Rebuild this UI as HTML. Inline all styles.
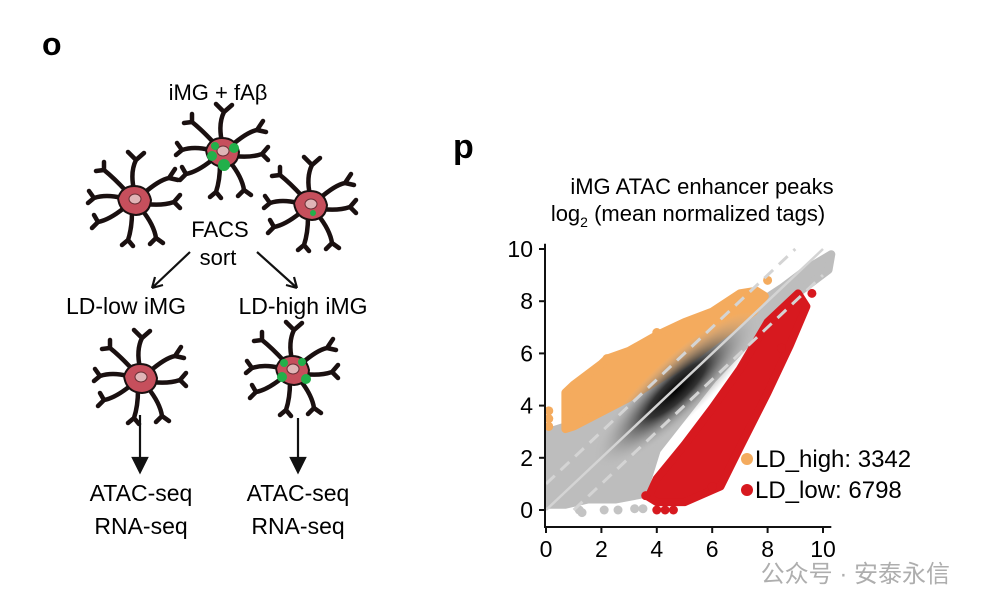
<!DOCTYPE html>
<html><head><meta charset="utf-8"><style>
html,body{margin:0;padding:0;background:#fff;}
svg{display:block;font-family:"Liberation Sans","Noto Sans CJK SC",sans-serif;}
</style></head><body>
<svg id="fig" width="981" height="613" viewBox="0 0 981 613">
<defs>
  <g id="cell">
    <g stroke="#1a1010" stroke-width="4.5" fill="none" stroke-linecap="round">
      <path d="M0,-10 Q-4,-28 2,-40 M2,-40 l-8,-8 M2,-40 l8,-7"/>
      <path d="M9,-6 Q25,-20 35,-22 M35,-22 l6,-9 M35,-22 l9,2"/>
      <path d="M12,4 Q28,6 40,2 M40,2 l6,-7 M40,2 l6,6"/>
      <path d="M8,10 Q20,25 22,38 M22,38 l-6,6 M22,38 l7,5"/>
      <path d="M-2,12 Q-2,28 -6,40 M-6,40 l-6,5 M-6,40 l5,6"/>
      <path d="M-10,8 Q-25,20 -36,22 M-36,22 l-6,6 M-36,22 l-4,-7"/>
      <path d="M-12,-2 Q-28,-6 -40,-2 M-40,-2 l-5,-7 M-40,-2 l-6,5"/>
      <path d="M-8,-9 Q-20,-22 -30,-30 M-30,-30 l-8,1 M-30,-30 l0,-8"/>
    </g>
    <path d="M-16,-2 Q-12,-14 0,-14 Q14,-14 17,0 Q16,14 2,15 Q-14,14 -16,-2Z" fill="#c64f5c" stroke="#1a1010" stroke-width="2"/>
    <ellipse cx="1" cy="-1" rx="6" ry="5" fill="#e0b4b6" stroke="#6a3036" stroke-width="1"/>
  </g>
</defs>

<text x="42" y="55" font-size="32" font-weight="bold">o</text>
<text x="218" y="100" font-size="22" text-anchor="middle">iMG + fAβ</text>
<g transform="translate(222,152)"><use href="#cell"/>
  <circle cx="-7" cy="-6" r="4" fill="#22b04a"/><circle cx="12" cy="-4" r="5" fill="#22b04a"/><circle cx="-10" cy="4" r="5" fill="#22b04a"/><circle cx="2" cy="13" r="6" fill="#22b04a"/></g>
<g transform="translate(134,200)"><use href="#cell"/></g>
<g transform="translate(310,205)"><use href="#cell"/><circle cx="3" cy="8" r="3" fill="#22b04a"/></g>
<text x="220" y="237" font-size="22" text-anchor="middle">FACS</text>
<text x="218" y="265" font-size="22" text-anchor="middle">sort</text>
<g stroke="#111" stroke-width="2.2" fill="none">
  <path d="M190,252 L152,288 M152,288 l3,-11 M152,288 l11,-3"/>
  <path d="M257,252 L297,288 M297,288 l-3,-11 M297,288 l-11,-3"/>
</g>
<text x="126" y="314" font-size="23" text-anchor="middle">LD-low iMG</text>
<text x="303" y="314" font-size="23" text-anchor="middle">LD-high iMG</text>
<g transform="translate(140,378)"><use href="#cell"/></g>
<g transform="translate(292,370)"><use href="#cell"/>
  <circle cx="-8" cy="-7" r="4" fill="#22b04a"/><circle cx="10" cy="-8" r="4" fill="#22b04a"/><circle cx="-10" cy="7" r="5" fill="#22b04a"/><circle cx="14" cy="9" r="5" fill="#22b04a"/></g>
<g stroke="#111" stroke-width="2.2" fill="#111">
  <line x1="140" y1="415" x2="140" y2="466"/><path d="M133,458 L140,472 L147,458Z"/>
  <line x1="298" y1="418" x2="298" y2="466"/><path d="M291,458 L298,472 L305,458Z"/>
</g>
<text x="141" y="501" font-size="23" text-anchor="middle">ATAC-seq</text>
<text x="141" y="534" font-size="23" text-anchor="middle">RNA-seq</text>
<text x="298" y="501" font-size="23" text-anchor="middle">ATAC-seq</text>
<text x="298" y="534" font-size="23" text-anchor="middle">RNA-seq</text>

<text x="453" y="158" font-size="34" font-weight="bold">p</text>
<text x="702" y="194" font-size="22" text-anchor="middle">iMG ATAC enhancer peaks</text>
<text x="688" y="221" font-size="22" text-anchor="middle">log<tspan font-size="14" dy="6">2</tspan><tspan dy="-6"> (mean normalized tags)</tspan></text>
<g id="plot"></g>
<text x="950" y="582" font-size="24" fill="#9a9a9a" text-anchor="end" opacity="0.8">公众号 · 安泰永信</text>
</svg>
<script>
const xTicks=[0,2,4,6,8,10];
const yTicks=[0,2,4,6,8,10];
const grayRegion=[[0.1,0.2],[0.1,3.0],[0.7,3.2],[3,4.3],[5,5.6],[7.5,7.8],[8.5,8.5],[9.5,9.3],[10.3,9.8],[10.2,9.2],[9.2,8.4],[8.6,7.9],[6,5],[4,2.3],[3.5,0.6],[2.5,0.4],[1.5,0.4],[0.7,0.2]];
const grayLowPts=[[1.2,0],[2.1,0],[2.6,0],[3.2,0.05],[3.5,0.05],[1.3,-0.1]];
const highRegion=[[0.7,3.1],[0.7,4.5],[1,4.8],[2,5.6],[2.2,5.8],[3,6.1],[4,6.7],[5,7.2],[6,7.6],[7,8.3],[7.6,8.4],[7.9,8.2],[7.5,7.6],[5,5.6],[3,4.3],[1,3.2]];
const highPts=[[0.1,3.2],[0.1,3.5],[0.1,3.8],[8.0,8.8],[2.2,5.8],[4,6.8]];
const lowRegion=[[3.7,0.5],[4,1.2],[5,2.5],[6,3.9],[7,5.4],[8,7.2],[8.6,7.8],[9.1,8.3],[9.4,7.8],[8.8,6.3],[8,4.5],[7,2.4],[6.3,0.9],[5,0.3],[4,0.3]];
const lowPts=[[9.6,8.3],[8.5,6.2],[6.0,0.9],[4.0,0],[4.3,0],[4.6,0],[3.6,0.55]];
const highCount="3342", lowCount="6798";
const NS="http://www.w3.org/2000/svg";
const X0=546,X1=823,Y0=510,Y1=249;
function sx(v){return X0+(X1-X0)*v/10;}
function sy(v){return Y0-(Y0-Y1)*v/10;}
const plot=document.getElementById('plot');
function mk(t,a,p){const e=document.createElementNS(NS,t);for(const k in a)e.setAttribute(k,a[k]);(p||plot).appendChild(e);return e;}
function poly(pts,fill,name){const e=mk('polygon',{points:pts.map(p=>sx(p[0])+','+sy(p[1])).join(' '),fill:fill,stroke:fill,'stroke-width':8,'stroke-linejoin':'round'});

}
function dots(pts,fill,name){pts.forEach(p=>{const c=mk('circle',{cx:sx(p[0]),cy:sy(p[1]),r:4.5,fill:fill});

});}
const defs=mk('defs',{});
const g=mk('radialGradient',{id:'dens',cx:'0.5',cy:'0.5',r:'0.5'},defs);
mk('stop',{offset:'0',  'stop-color':'#000'},g);mk('stop',{offset:'0.35','stop-color':'#333'},g);mk('stop',{offset:'1','stop-color':'#bbb','stop-opacity':'0'},g);
poly(grayRegion,'#bdbdbd','gray-points-region');
dots(grayLowPts,'#c4c4c4','gray-point');
poly(highRegion,'#f4ab5e','ld-high-region');
dots(highPts,'#f4ab5e','ld-high-point');
poly(lowRegion,'#d7191f','ld-low-region');
dots(lowPts,'#d7191f','ld-low-point');
const cx=sx(4.7),cy=sy(4.6);
const d=mk('ellipse',{cx:cx,cy:cy,rx:110,ry:30,fill:'url(#dens)',transform:`rotate(-43 ${cx} ${cy})`});


const diag=mk('line',{x1:sx(0),y1:sy(0),x2:sx(10),y2:sy(10),stroke:'#d4d4d4','stroke-width':2.5});


[[0,1,9,10],[1,0,10,9]].forEach((l,i)=>{const e=mk('line',{x1:sx(l[0]),y1:sy(l[1]),x2:sx(l[2]),y2:sy(l[3]),stroke:'#d4d4d4','stroke-width':3,'stroke-dasharray':'12 8'});

});
const ax=mk('path',{d:`M545,${sy(10.2)} L545,527 L${sx(10.3)},527`,stroke:'#111','stroke-width':2,fill:'none'});


xTicks.forEach(v=>{mk('line',{x1:sx(v),y1:527,x2:sx(v),y2:533,stroke:'#111','stroke-width':2});
const t=mk('text',{x:sx(v),y:557,'font-size':23,'text-anchor':'middle'});t.textContent=v;

});
yTicks.forEach(v=>{mk('line',{x1:539,y1:sy(v),x2:545,y2:sy(v),stroke:'#111','stroke-width':2});
const t=mk('text',{x:533,y:sy(v)+8,'font-size':23,'text-anchor':'end'});t.textContent=v;

});
[[highCount,'LD_high: ','#f4ab5e',467],[lowCount,'LD_low: ','#d7191f',498]].forEach((l,i)=>{
mk('circle',{cx:747,cy:l[3]-8,r:6,fill:l[2]});
const t=mk('text',{x:755,y:l[3],'font-size':24});t.textContent=l[1]+l[0];

});
</script>
</body></html>
